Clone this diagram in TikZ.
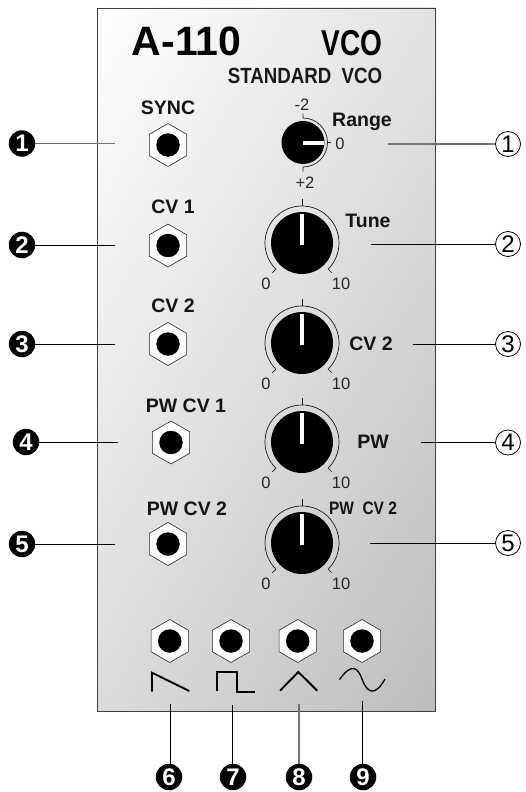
\documentclass[tikz,border=0pt]{standalone}
\usepackage{fontspec}
\setmainfont{Liberation Sans}
\usetikzlibrary{shapes.geometric,shadings}
\newcommand{\fsz}[1]{\fontsize{#1}{#1}\selectfont}
\tikzset{
  x=1pt,y=-1pt,
  panel/.style={draw=black!75,line width=0.9pt,rectangle,upper left=white,upper right=black!11,lower left=black!14,lower right=black!26},
  hexnut/.style={regular polygon,regular polygon sides=6,shape border rotate=30,minimum size=43pt,inner sep=0pt,draw=black!85,line width=0.6pt,fill=white},
  hole/.style={circle,fill=black,minimum size=23.5pt,inner sep=0pt},
  knobcap/.style={circle,fill=black,minimum size=62pt,inner sep=0pt},
  rangecap/.style={circle,fill=black,minimum size=43pt,inner sep=0pt},
  scaleline/.style={draw=black!90,line width=0.7pt},
  pointer/.style={draw=white,line width=4pt},
  lab/.style={font=\bfseries\fsz{19.5},inner sep=0pt,text=black!92},
  num/.style={font=\fsz{16.5},inner sep=0pt,text=black!85},
  solidnum/.style={circle,fill=black,text=white,minimum size=26.5pt,inner sep=0pt,font=\bfseries\fsz{24}},
  opennum/.style={circle,draw=black,line width=0.8pt,fill=white,minimum size=25pt,inner sep=0pt,font=\fsz{24}},
  leader/.style={draw=black,line width=0.8pt},
  greyleader/.style={draw=black!55,line width=1.4pt},
  wave/.style={draw=black,line width=1.9pt,line join=miter},
}
\begin{document}
\begin{tikzpicture}
\useasboundingbox (0,0) rectangle (525,792);
\path[fill=white] (0,0) rectangle (525,792);
\shade[panel] (97,8) rectangle (435,711);

% Title
\node[font=\bfseries\fsz{41},inner sep=0pt,text=black] (title) at (186.5,41) {A-110};
\node[font=\bfseries\fsz{36},inner sep=0pt,text=black] (vco) at (352,43) {\scalebox{0.78}[1]{VCO}};
\node[font=\bfseries\fsz{22},inner sep=0pt,text=black!90] (std) at (305,76) {\scalebox{0.85}[1]{STANDARD\ \ VCO}};

% Jacks
\foreach \n/\x/\y in {sync/168/145,cva/168/245.5,cvb/168/344,pwa/171/442.5,pwb/168/544,saw/169.7/641,sqr/231/641,tri/297.7/641,sin/362/641}{
  \node[hexnut] (j\n) at (\x,\y) {};
  \node[hole] at (j\n.center) {};
}

% Big knobs
\foreach \n/\y in {tune/243,cv/343,pw/442,pwc/543}{
  \node[knobcap] (k\n) at (302,\y) {};
  \draw[scaleline] ([shift={(225:42pt)}]k\n.center) -- ([shift={(225:37pt)}]k\n.center)
      arc[start angle=225,end angle=-45,radius=37pt] -- ([shift={(-45:42pt)}]k\n.center);
  \draw[scaleline] ([shift={(90:37pt)}]k\n.center) -- ([shift={(90:44pt)}]k\n.center);
  \draw[pointer] ([shift={(90:-2pt)}]k\n.center) -- ([shift={(90:29.5pt)}]k\n.center);
  \node[num] at ([shift={(-36pt,-41pt)}]k\n.center) {0};
  \node[num] at ([shift={(39pt,-41pt)}]k\n.center) {10};
}

% Range knob
\node[rangecap] (krange) at (303,142.5) {};
\draw[scaleline] ([shift={(90:29pt)}]krange.center) -- ([shift={(90:24.5pt)}]krange.center)
   arc[start angle=90,end angle=-90,radius=24.5pt] -- ([shift={(-90:29pt)}]krange.center);
\draw[scaleline] ([shift={(0:24.5pt)}]krange.center) -- ([shift={(0:28pt)}]krange.center);
\draw[pointer] (krange.center) -- ([shift={(0:21pt)}]krange.center);
\node[num] at (302,105) {-2};
\node[num] at (340,143.5) {0};
\node[num] at (305,183) {+2};

% Labels
\node[lab] at (168,108) {SYNC};
\node[lab] at (173,207) {CV 1};
\node[lab] at (173,306) {CV 2};
\node[lab] at (186,406) {PW CV 1};
\node[lab] at (187,509) {PW CV 2};
\node[lab] at (362,122) {Range};
\node[lab] at (368,221) {Tune};
\node[lab] at (371,344) {CV 2};
\node[lab] at (373,442) {PW};
\node[lab,font=\bfseries\fsz{18}] at (363,508) {\scalebox{0.86}[1]{PW\ \ CV 2}};

% Waveforms
\coordinate (sawa) at (152,691.7); \coordinate (sawb) at (152,672.7); \coordinate (sawc) at (189.3,691);
\draw[wave] (sawa) -- (sawb) -- (sawc);
\coordinate (sqa) at (217.3,691); \coordinate (sqb) at (217.3,672.3); \coordinate (sqc) at (237.3,672.3); \coordinate (sqd) at (237.3,691.7); \coordinate (sqe) at (255,691.7);
\draw[wave] (sqa) -- (sqb) -- (sqc) -- (sqd) -- (sqe);
\coordinate (tra) at (280,690.7); \coordinate (trb) at (298.3,672); \coordinate (trc) at (317.3,690.7);
\draw[wave] (tra) -- (trb) -- (trc);
\coordinate (swa) at (339.5,679.5); \coordinate (swb) at (385,679);
\draw[draw=black,line width=1.3pt] (swa) .. controls (352,662) and (358,668) .. (362,679) .. controls (367,693) and (375,697) .. (swb);

% Left callouts
\node[solidnum] (n1) at (22,143.5) {1};
\node[solidnum] (n2) at (22,245) {2};
\node[solidnum] (n3) at (22,344) {3};
\node[solidnum] (n4) at (26,442) {4};
\node[solidnum] (n5) at (22,544) {5};
\coordinate (la) at (115,143.5); \coordinate (lb) at (115,245); \coordinate (lc) at (115,344); \coordinate (ld) at (118,442); \coordinate (le) at (115,544);
\draw[greyleader] (la) -- (n1);
\draw[leader] (lb) -- (n2);
\draw[leader] (lc) -- (n3);
\draw[leader] (ld) -- (n4);
\draw[leader] (le) -- (n5);

% Right callouts
\node[opennum] (r1) at (508,144) {1};
\node[opennum] (r2) at (508,244) {2};
\node[opennum] (r3) at (508,344) {3};
\node[opennum] (r4) at (508,442.5) {4};
\node[opennum] (r5) at (508,543) {5};
\coordinate (ra) at (388,144); \coordinate (rb) at (371,244); \coordinate (rc) at (413,344); \coordinate (rd) at (421,442.5); \coordinate (re) at (370,543);
\draw[greyleader] (ra) -- (r1);
\draw[leader] (rb) -- (r2);
\draw[leader] (rc) -- (r3);
\draw[leader] (rd) -- (r4);
\draw[leader] (re) -- (r5);

% Bottom callouts
\node[solidnum] (n6) at (169,777) {6};
\node[solidnum] (n7) at (233,777) {7};
\node[solidnum] (n8) at (299,777) {8};
\node[solidnum] (n9) at (363,777) {9};
\coordinate (ba) at (170,704); \coordinate (bb) at (232,705); \coordinate (bc) at (299,704); \coordinate (bd) at (362,701);
\draw[leader] (ba) -- (ba |- n6.north);
\draw[leader] (bb) -- (bb |- n7.north);
\draw[greyleader] (bc) -- (bc |- n8.north);
\draw[leader] (bd) -- (bd |- n9.north);
\end{tikzpicture}
\end{document}
